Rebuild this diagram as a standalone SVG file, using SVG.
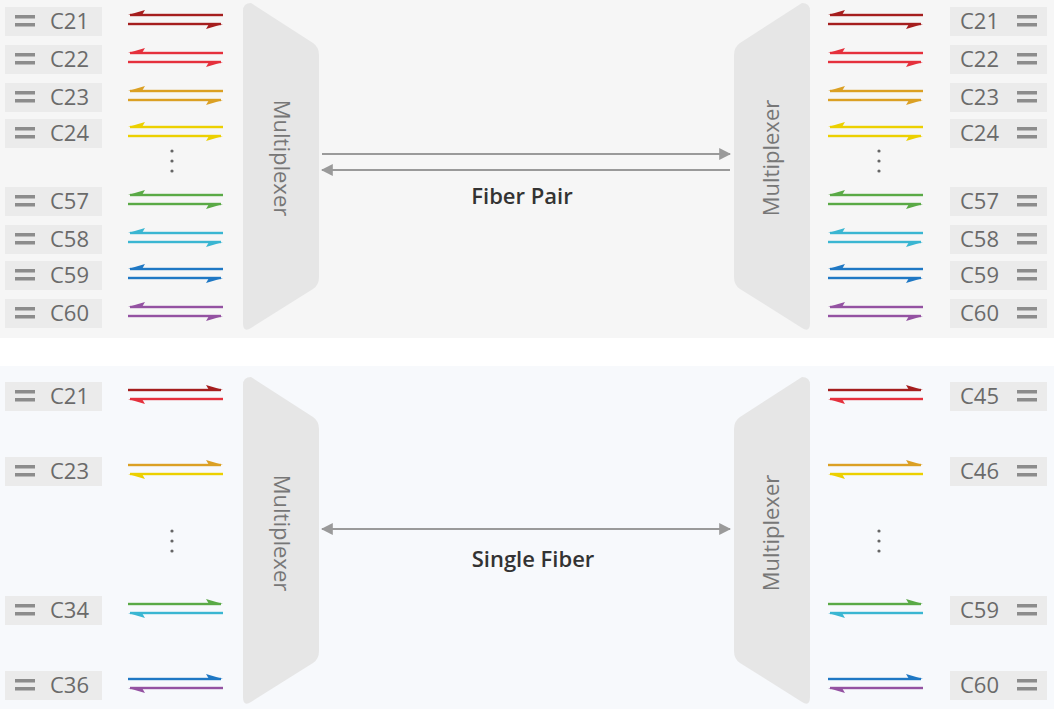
<svg xmlns="http://www.w3.org/2000/svg" width="1054" height="709" viewBox="0 0 1054 709">
<style>
.box{fill:#ebebeb}
.eq{fill:#8c8c8c}
.lbl{font-family:"Open Sans",sans-serif;font-size:22px;fill:#6a6a6a}
.mux{fill:#e6e6e6}
.mt{font-family:"Open Sans",sans-serif;font-size:22px;fill:#777}
.ttl{font-family:"Open Sans",sans-serif;font-size:22px;font-weight:600;fill:#333}
.gl{stroke:#9a9a9a;stroke-width:2;fill:none}
.dot{fill:#666}
</style>
<defs>
<marker id="ah" viewBox="0 0 10 10" refX="9" refY="5" markerWidth="6" markerHeight="6" orient="auto-start-reverse"><path d="M0,0L10,5L0,10z" fill="#9a9a9a"/></marker>
<g id="lab"><rect class="box" x="0" y="-14" width="97" height="29"/><rect class="eq" x="10" y="-6" width="20" height="3.5"/><rect class="eq" x="10" y="2" width="20" height="3.5"/></g>
<g id="labR"><rect class="box" x="0" y="-14" width="97" height="29"/><rect class="eq" x="67" y="-6" width="20" height="3.5"/><rect class="eq" x="67" y="2" width="20" height="3.5"/></g>
<path id="mux" d="M0,8 Q0,0 8,0 L70,40 Q76,44 76,52 L76,274 Q76,282 70,286 L8,325 Q0,330 0,320 Z"/>
</defs>
<rect x="0" y="0" width="1054" height="338" fill="#f6f6f6"/>
<rect x="0" y="366" width="1054" height="343" fill="#f7f9fc"/>

<g id="mux-tl"><use href="#mux" class="mux" x="243" y="3"/><text class="mt" transform="translate(274,158) rotate(90)" text-anchor="middle">Multiplexer</text></g>
<g id="mux-tr"><use href="#mux" class="mux" transform="translate(810,3) scale(-1,1)"/><text class="mt" transform="translate(779,158) rotate(-90)" text-anchor="middle">Multiplexer</text></g>
<g id="mux-bl"><use href="#mux" class="mux" x="243" y="377"/><text class="mt" transform="translate(274,533) rotate(90)" text-anchor="middle">Multiplexer</text></g>
<g id="mux-br"><use href="#mux" class="mux" transform="translate(810,377) scale(-1,1)"/><text class="mt" transform="translate(779,533) rotate(-90)" text-anchor="middle">Multiplexer</text></g>

<g id="connectors">
<line class="gl" x1="322" y1="154" x2="730" y2="154" marker-end="url(#ah)"/>
<line class="gl" x1="322" y1="170" x2="730" y2="170" marker-start="url(#ah)"/>
<line class="gl" x1="322" y1="529" x2="730" y2="529" marker-start="url(#ah)" marker-end="url(#ah)"/>
</g>
<text class="ttl" x="522" y="204" text-anchor="middle">Fiber Pair</text>
<text class="ttl" x="533" y="567" text-anchor="middle">Single Fiber</text>

<g id="dots">
<circle class="dot" cx="172" cy="151" r="1.6"/><circle class="dot" cx="172" cy="161" r="1.6"/><circle class="dot" cx="172" cy="171" r="1.6"/>
<circle class="dot" cx="879" cy="151" r="1.6"/><circle class="dot" cx="879" cy="161" r="1.6"/><circle class="dot" cx="879" cy="171" r="1.6"/>
<circle class="dot" cx="172" cy="531" r="1.6"/><circle class="dot" cx="172" cy="541" r="1.6"/><circle class="dot" cx="172" cy="551" r="1.6"/>
<circle class="dot" cx="879" cy="531" r="1.6"/><circle class="dot" cx="879" cy="541" r="1.6"/><circle class="dot" cx="879" cy="551" r="1.6"/>
</g>

<g id="tl-c21"><use href="#lab" x="5" y="21"/><text class="lbl" x="50" y="29">C21</text></g>
<g id="tl-c22"><use href="#lab" x="5" y="59"/><text class="lbl" x="50" y="67">C22</text></g>
<g id="tl-c23"><use href="#lab" x="5" y="97"/><text class="lbl" x="50" y="105">C23</text></g>
<g id="tl-c24"><use href="#lab" x="5" y="133"/><text class="lbl" x="50" y="141">C24</text></g>
<g id="tl-c57"><use href="#lab" x="5" y="201"/><text class="lbl" x="50" y="209">C57</text></g>
<g id="tl-c58"><use href="#lab" x="5" y="239"/><text class="lbl" x="50" y="247">C58</text></g>
<g id="tl-c59"><use href="#lab" x="5" y="275"/><text class="lbl" x="50" y="283">C59</text></g>
<g id="tl-c60"><use href="#lab" x="5" y="313"/><text class="lbl" x="50" y="321">C60</text></g>
<g id="tr-c21"><use href="#labR" x="950" y="21"/><text class="lbl" x="960" y="29">C21</text></g>
<g id="tr-c22"><use href="#labR" x="950" y="59"/><text class="lbl" x="960" y="67">C22</text></g>
<g id="tr-c23"><use href="#labR" x="950" y="97"/><text class="lbl" x="960" y="105">C23</text></g>
<g id="tr-c24"><use href="#labR" x="950" y="133"/><text class="lbl" x="960" y="141">C24</text></g>
<g id="tr-c57"><use href="#labR" x="950" y="201"/><text class="lbl" x="960" y="209">C57</text></g>
<g id="tr-c58"><use href="#labR" x="950" y="239"/><text class="lbl" x="960" y="247">C58</text></g>
<g id="tr-c59"><use href="#labR" x="950" y="275"/><text class="lbl" x="960" y="283">C59</text></g>
<g id="tr-c60"><use href="#labR" x="950" y="313"/><text class="lbl" x="960" y="321">C60</text></g>
<g id="bl-c21"><use href="#lab" x="5" y="396"/><text class="lbl" x="50" y="404">C21</text></g>
<g id="bl-c23"><use href="#lab" x="5" y="471"/><text class="lbl" x="50" y="479">C23</text></g>
<g id="bl-c34"><use href="#lab" x="5" y="610"/><text class="lbl" x="50" y="618">C34</text></g>
<g id="bl-c36"><use href="#lab" x="5" y="685"/><text class="lbl" x="50" y="693">C36</text></g>
<g id="br-c45"><use href="#labR" x="950" y="396"/><text class="lbl" x="960" y="404">C45</text></g>
<g id="br-c46"><use href="#labR" x="950" y="471"/><text class="lbl" x="960" y="479">C46</text></g>
<g id="br-c59"><use href="#labR" x="950" y="610"/><text class="lbl" x="960" y="618">C59</text></g>
<g id="br-c60"><use href="#labR" x="950" y="685"/><text class="lbl" x="960" y="693">C60</text></g>

<defs>
<g id="pairT">
<rect x="130" y="-7.2" width="93" height="2.4"/><polygon points="128,-6 145,-11 142,-6"/>
<rect x="128" y="1.8" width="93" height="2.4"/><polygon points="223,3 206,8 209,3"/>
</g>
<g id="pairUp"><rect x="128" y="-7.2" width="93" height="2.4"/><polygon points="223,-6 206,-11 209,-6"/></g>
<g id="pairLo"><rect x="130" y="1.8" width="93" height="2.4"/><polygon points="128,3 145,8 142,3"/></g>
</defs>
<g id="channel-arrows">
<use href="#pairT" y="21" fill="#a51e1e"/><use href="#pairT" y="59" fill="#e5303c"/><use href="#pairT" y="97" fill="#dba024"/><use href="#pairT" y="133" fill="#ecd000"/>
<use href="#pairT" y="201" fill="#5aaa46"/><use href="#pairT" y="239" fill="#3ab6d2"/><use href="#pairT" y="275" fill="#1f78c4"/><use href="#pairT" y="313" fill="#9452a2"/>
<use href="#pairT" x="700" y="21" fill="#a51e1e"/><use href="#pairT" x="700" y="59" fill="#e5303c"/><use href="#pairT" x="700" y="97" fill="#dba024"/><use href="#pairT" x="700" y="133" fill="#ecd000"/>
<use href="#pairT" x="700" y="201" fill="#5aaa46"/><use href="#pairT" x="700" y="239" fill="#3ab6d2"/><use href="#pairT" x="700" y="275" fill="#1f78c4"/><use href="#pairT" x="700" y="313" fill="#9452a2"/>
<use href="#pairUp" y="396" fill="#a51e1e"/><use href="#pairLo" y="396" fill="#e5303c"/>
<use href="#pairUp" y="471" fill="#dba024"/><use href="#pairLo" y="471" fill="#ecd000"/>
<use href="#pairUp" y="610" fill="#5aaa46"/><use href="#pairLo" y="610" fill="#3ab6d2"/>
<use href="#pairUp" y="685" fill="#1f78c4"/><use href="#pairLo" y="685" fill="#9452a2"/>
<use href="#pairUp" x="700" y="396" fill="#a51e1e"/><use href="#pairLo" x="700" y="396" fill="#e5303c"/>
<use href="#pairUp" x="700" y="471" fill="#dba024"/><use href="#pairLo" x="700" y="471" fill="#ecd000"/>
<use href="#pairUp" x="700" y="610" fill="#5aaa46"/><use href="#pairLo" x="700" y="610" fill="#3ab6d2"/>
<use href="#pairUp" x="700" y="685" fill="#1f78c4"/><use href="#pairLo" x="700" y="685" fill="#9452a2"/>
</g>
</svg>
